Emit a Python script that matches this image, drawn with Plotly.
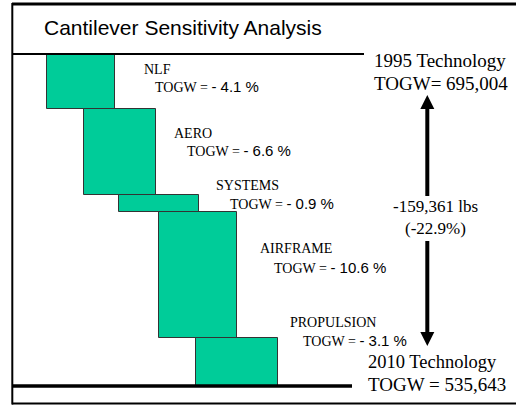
import plotly.graph_objects as go

# ---------------- data ----------------
stages = ["NLF", "AERO", "SYSTEMS", "AIRFRAME", "PROPULSION"]
togw_pct = ["- 4.1 %", "- 6.6 %", "- 0.9 %", "- 10.6 %", "- 3.1 %"]
weight_drop_lbs = [26500, 41400, 7700, 60500, 23261]
togw_1995 = 695004
togw_2010 = 535643
total_delta_lbs = "-159,361 lbs"
total_delta_pct = "(-22.9%)"

# ---------------- layout helpers ----------------
W, H = 516, 405
SERIF = "Liberation Serif, Times New Roman, serif"
SANS = "Liberation Sans, Arial, sans-serif"
BAR_COLOR = "#00CC99"


def px(x):
    return x / W


def py(y):
    return 1 - y / H


# vertical scale: 1995 level at pixel 54, 2010 level at pixel 386
top_px, bot_px = 54, 386
lbs_per_px = (togw_1995 - togw_2010) / (bot_px - top_px)
y_range = [togw_2010 - (H - bot_px) * lbs_per_px, togw_1995 + top_px * lbs_per_px]

# horizontal scale: bar index -> pixels
x0_px, step_px = 81.3, 38.9
x_range = [-x0_px / step_px, (W - x0_px) / step_px]
bar_widths = [1.75, 1.85, 2.06, 2.03, 2.10]

# waterfall bases
bases = []
level = togw_1995
for d in weight_drop_lbs:
    level -= d
    bases.append(level)

fig = go.Figure()
fig.add_trace(go.Bar(
    x=list(range(len(stages))),
    y=weight_drop_lbs,
    base=bases,
    width=bar_widths,
    marker=dict(color=BAR_COLOR, line=dict(color="#333333", width=1)),
    hoverinfo="skip",
))

shapes = [
    # frame
    dict(type="line", xref="paper", yref="paper", x0=px(12), x1=1, y0=py(4), y1=py(4),
         line=dict(color="black", width=3)),
    dict(type="line", xref="paper", yref="paper", x0=px(12.3), x1=px(12.3), y0=py(3), y1=py(404.5),
         line=dict(color="black", width=2)),
    dict(type="line", xref="paper", yref="paper", x0=px(12), x1=1, y0=py(403.5), y1=py(403.5),
         line=dict(color="black", width=2)),
    # header rule = 1995 level
    dict(type="line", xref="paper", yref="y", x0=px(12), x1=px(364), y0=togw_1995, y1=togw_1995,
         line=dict(color="black", width=2)),
    # 2010 level baseline
    dict(type="line", xref="paper", yref="y", x0=px(12), x1=px(352), y0=togw_2010, y1=togw_2010,
         line=dict(color="black", width=3.5)),
    # arrow shafts
    dict(type="line", xref="paper", yref="paper", x0=px(427.3), x1=px(427.3), y0=py(106), y1=py(196),
         line=dict(color="black", width=4)),
    dict(type="line", xref="paper", yref="paper", x0=px(427.3), x1=px(427.3), y0=py(241), y1=py(334),
         line=dict(color="black", width=4)),
    # arrow heads
    dict(type="path", xref="paper", yref="paper",
         path=f"M {px(427.3)} {py(95)} L {px(434.3)} {py(109)} L {px(420.3)} {py(109)} Z",
         fillcolor="black", line=dict(width=0)),
    dict(type="path", xref="paper", yref="paper",
         path=f"M {px(427.3)} {py(346)} L {px(434.3)} {py(332)} L {px(420.3)} {py(332)} Z",
         fillcolor="black", line=dict(width=0)),
]

annotations = []


def text(x, y, s, family, size, xanchor="left"):
    annotations.append(dict(
        xref="paper", yref="paper", x=px(x), y=py(y), text=s, showarrow=False,
        xanchor=xanchor, yanchor="middle", align="left",
        font=dict(family=family, size=size, color="black"),
    ))


text(42, 28, "Cantilever Sensitivity Analysis", SANS, 21)
text(372, 60, "1995 Technology", SERIF, 19)
text(372, 83.5, "TOGW= 695,004", SERIF, 19)
text(366, 361.5, "2010 Technology", SERIF, 18.5)
text(366, 384, "TOGW = 535,643", SERIF, 19)
text(435, 207, total_delta_lbs, SERIF, 17, "center")
text(435, 228, total_delta_pct, SERIF, 17, "center")

name_pos = [(142, 69), (172, 133), (214, 185), (258, 248), (288, 322)]
val_pos = [(153, 87), (185, 150), (228, 203), (272, 267), (301, 340)]
for name, pct, (nx, ny), (vx, vy) in zip(stages, togw_pct, name_pos, val_pos):
    text(nx, ny, name, SERIF, 14)
    text(vx, vy, f"TOGW = <span style='font-family:{SANS}; font-size:15px'>{pct}</span>", SERIF, 14)

fig.update_layout(
    width=W, height=H,
    margin=dict(l=0, r=0, t=0, b=0),
    paper_bgcolor="white", plot_bgcolor="white",
    showlegend=False,
    xaxis=dict(range=x_range, visible=False, fixedrange=True),
    yaxis=dict(range=y_range, visible=False, fixedrange=True),
    shapes=shapes,
    annotations=annotations,
    bargap=0,
)

fig.write_html("out.html", config={"displayModeBar": False},
               post_script="document.body.style.margin='0';document.body.style.overflow='hidden';")
